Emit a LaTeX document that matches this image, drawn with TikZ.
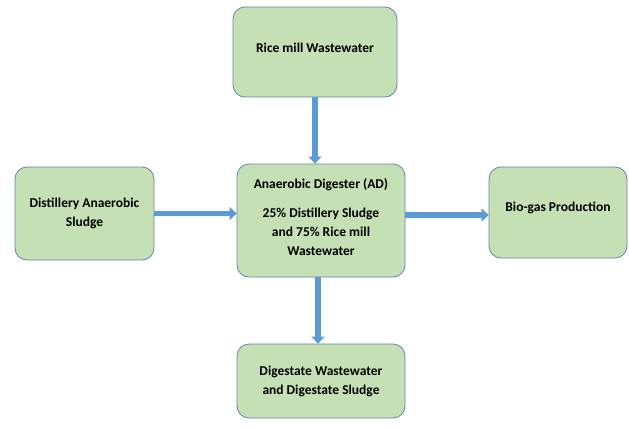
\documentclass[tikz,border=0pt]{standalone}
\usepackage{fontspec}
\setmainfont{Carlito}
\usetikzlibrary{arrows.meta}
\definecolor{boxfill}{HTML}{C5E0B4}
\definecolor{boxline}{HTML}{5E86AE}
\definecolor{arrowblue}{HTML}{5B9BD5}
\tikzset{
  box/.style={draw=boxline, line width=0.8pt, fill=boxfill, rounded corners=12pt,
    align=center, font=\bfseries\fontsize{13.5}{19}\selectfont, text=black, inner sep=0pt},
  flow/.style={draw=arrowblue, line width=5.5pt, -{Triangle[width=13pt,length=7pt]}}
}
\begin{document}
\begin{tikzpicture}[x=1pt,y=-1pt]
\useasboundingbox (0,0) rectangle (629,429);
\node[box, minimum width=164pt, minimum height=90pt] (rice) at (315,52) {\raisebox{8pt}{Rice mill Wastewater}};
\node[box, minimum width=168pt, minimum height=113pt] (ad) at (321,220.5)
  {Anaerobic Digester (AD)\\[10pt]25\% Distillery Sludge\\and 75\% Rice mill\\Wastewater\\[-12pt]};
\node[box, minimum width=139pt, minimum height=93pt] (dist) at (84.5,213.5)
  {Distillery Anaerobic\\Sludge};
\node[box, minimum width=138pt, minimum height=91pt] (bio) at (558,212.5)
  {\raisebox{11pt}{Bio-gas Production}};
\node[box, minimum width=168pt, minimum height=74pt] (dig) at (321,381)
  {Digestate Wastewater\\and Digestate Sludge};
\draw[flow] (rice.south) -- (rice.south |- ad.north);
\draw[flow] (dist.east) -- (dist.east -| ad.west);
\draw[flow] ([yshift=-2.5pt]bio.west -| ad.east) -- ([yshift=-2.5pt]bio.west);
\draw[flow] ([xshift=-3pt]ad.south) -- ([xshift=-3pt]ad.south |- dig.north);
\end{tikzpicture}
\end{document}
